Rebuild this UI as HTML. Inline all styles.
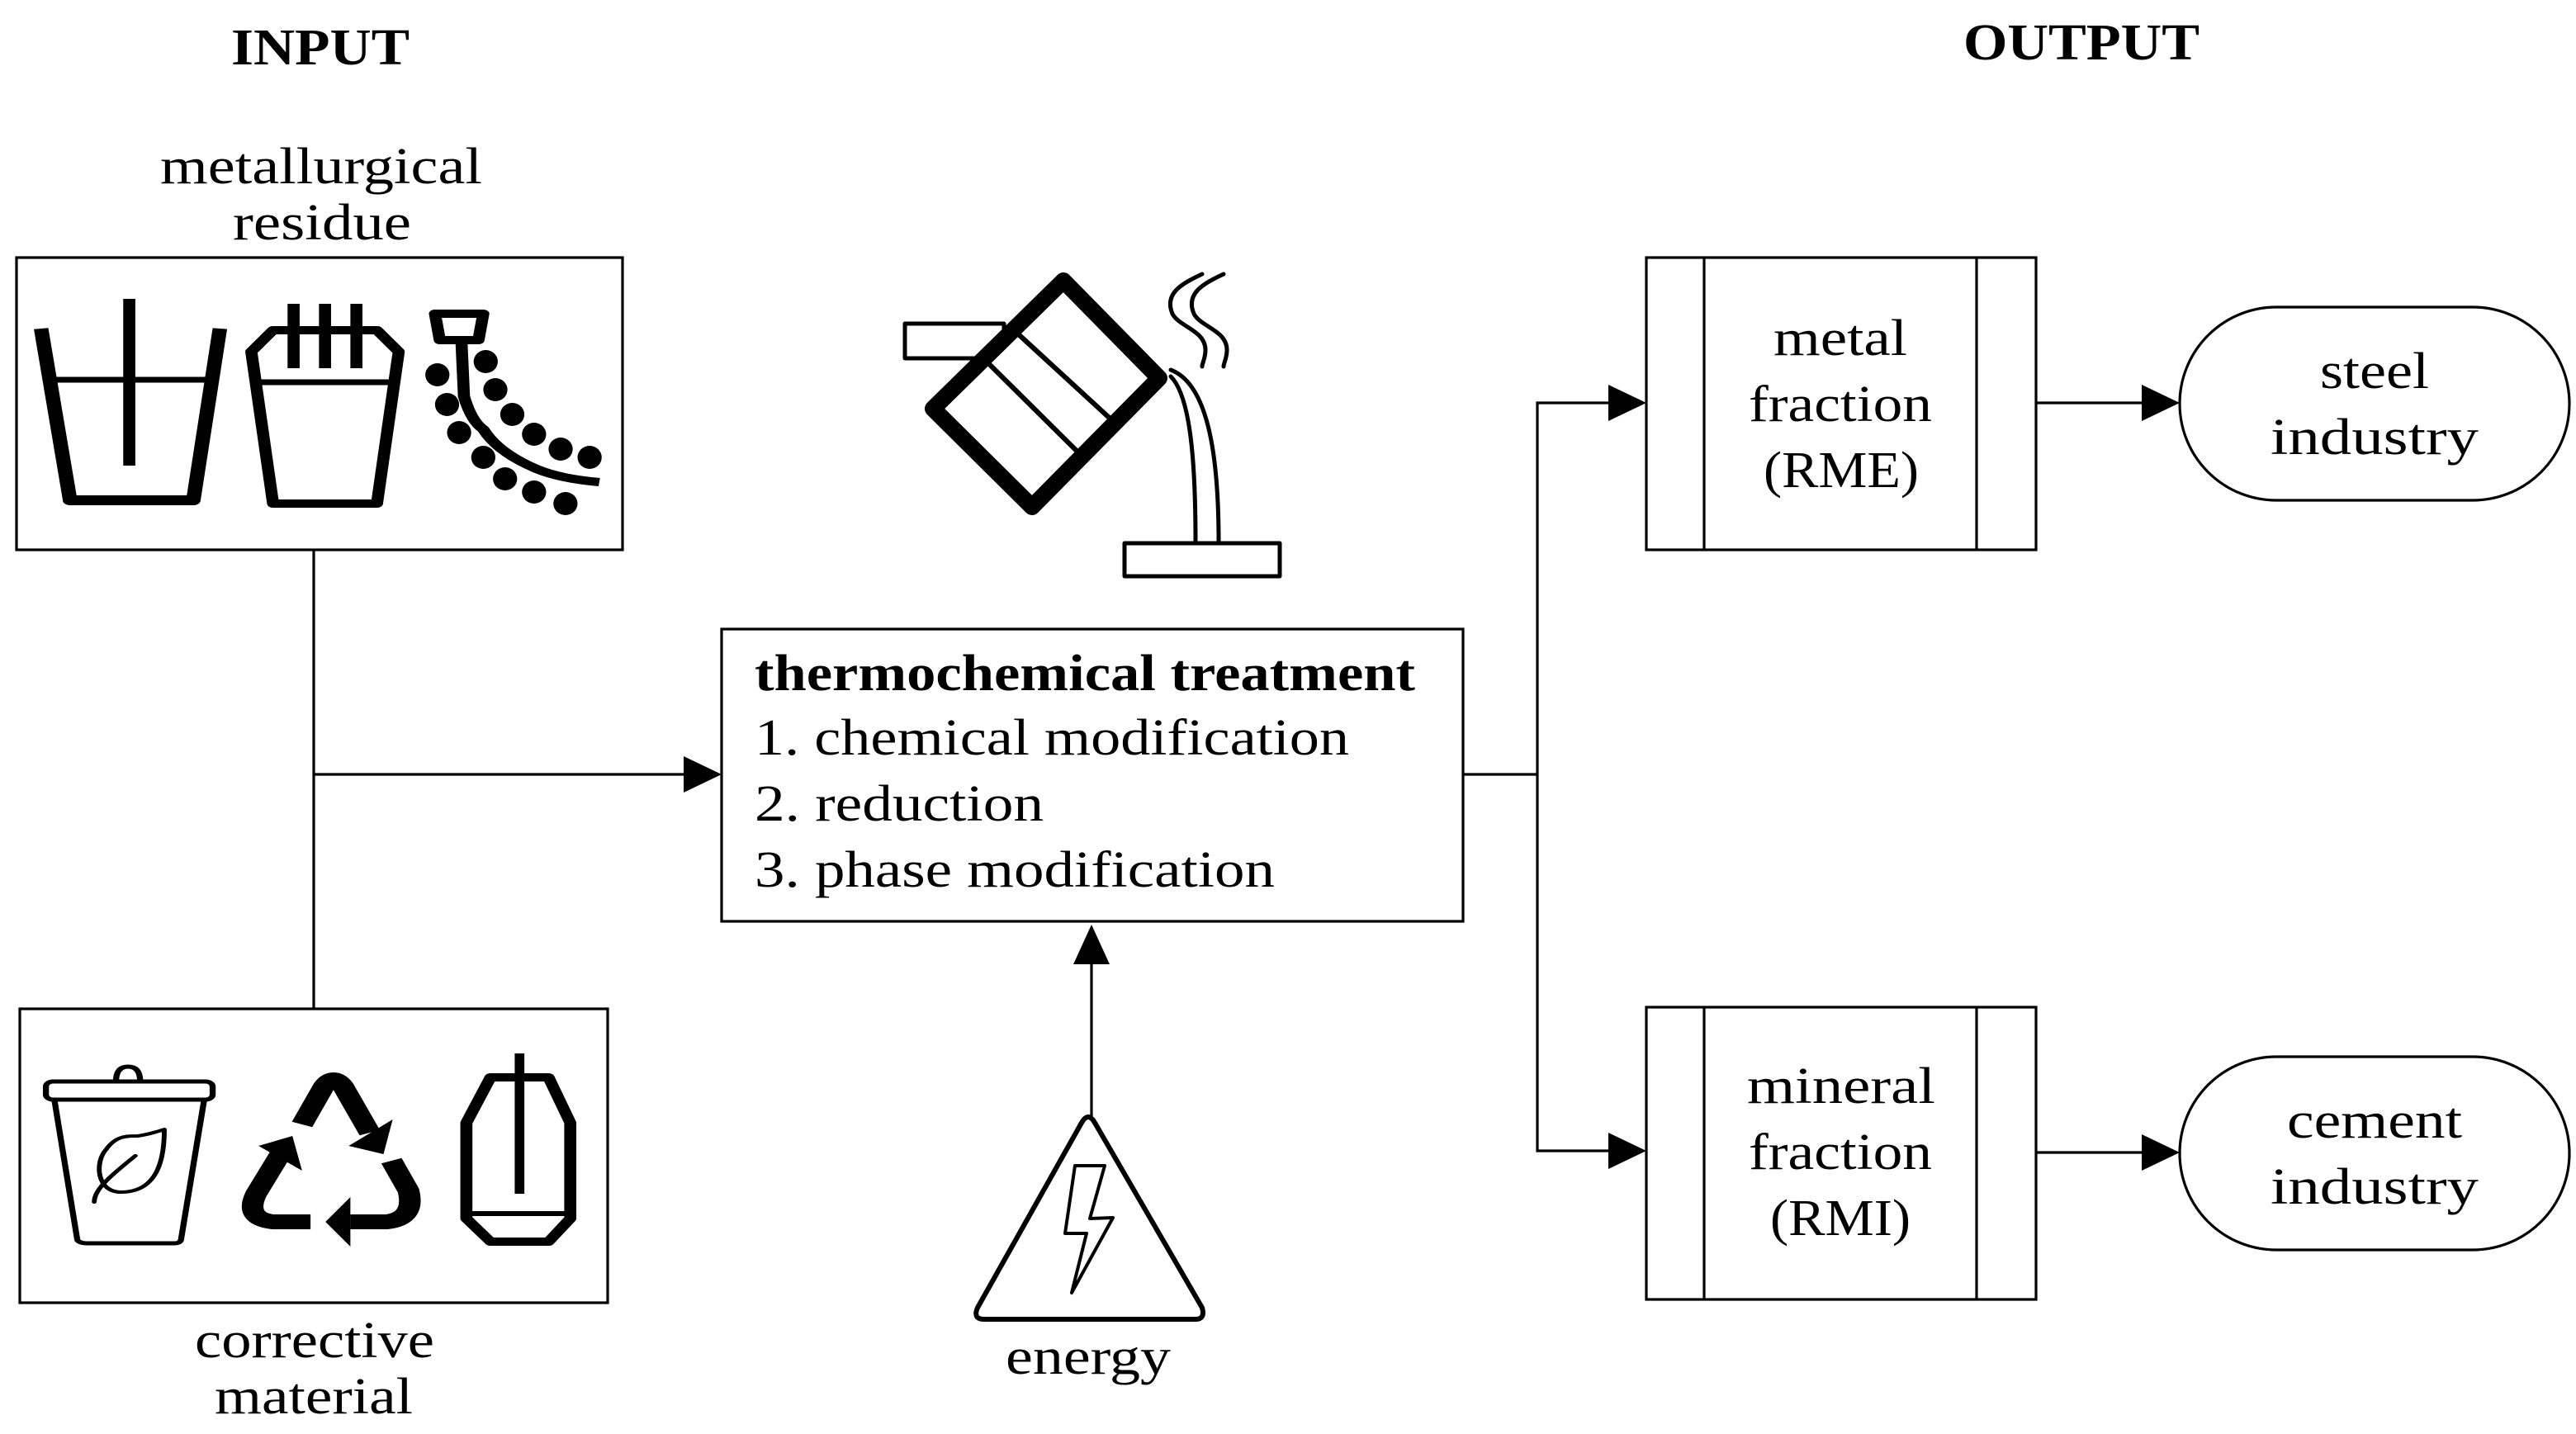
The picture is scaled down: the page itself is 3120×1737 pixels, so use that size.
<!DOCTYPE html>
<html><head><meta charset="utf-8"><style>html,body{margin:0;padding:0;background:#fff}svg{display:block}</style></head>
<body>
<svg width="3120" height="1737" viewBox="0 0 1560 868.5" xmlns="http://www.w3.org/2000/svg" font-family="'Liberation Serif', serif" font-size="31" fill="#000">
<rect width="1560" height="868.5" fill="#fff"/>
<g>
<text x="140" y="39" font-weight="bold" textLength="108" lengthAdjust="spacingAndGlyphs">INPUT</text>
<text x="1189" y="36" font-weight="bold" textLength="143" lengthAdjust="spacingAndGlyphs">OUTPUT</text>
<text x="97" y="111" textLength="195" lengthAdjust="spacingAndGlyphs">metallurgical</text>
<text x="141" y="145" textLength="108" lengthAdjust="spacingAndGlyphs">residue</text>
<text x="118" y="822" textLength="145" lengthAdjust="spacingAndGlyphs">corrective</text>
<text x="130" y="856" textLength="120" lengthAdjust="spacingAndGlyphs">material</text>
<text x="609" y="832" textLength="100" lengthAdjust="spacingAndGlyphs">energy</text>
<text x="457" y="418" font-weight="bold" textLength="400" lengthAdjust="spacingAndGlyphs">thermochemical treatment</text>
<text x="457" y="457" textLength="360" lengthAdjust="spacingAndGlyphs">1. chemical modification</text>
<text x="457" y="497" textLength="175" lengthAdjust="spacingAndGlyphs">2. reduction</text>
<text x="457" y="537" textLength="315" lengthAdjust="spacingAndGlyphs">3. phase modification</text>
<text x="1074" y="215" textLength="81" lengthAdjust="spacingAndGlyphs">metal</text>
<text x="1059" y="255" textLength="111" lengthAdjust="spacingAndGlyphs">fraction</text>
<text x="1068" y="295" textLength="94" lengthAdjust="spacingAndGlyphs">(RME)</text>
<text x="1058" y="668" textLength="114" lengthAdjust="spacingAndGlyphs">mineral</text>
<text x="1059" y="708" textLength="111" lengthAdjust="spacingAndGlyphs">fraction</text>
<text x="1072" y="748" textLength="85" lengthAdjust="spacingAndGlyphs">(RMI)</text>
<text x="1405" y="235" textLength="66" lengthAdjust="spacingAndGlyphs">steel</text>
<text x="1375" y="275" textLength="126" lengthAdjust="spacingAndGlyphs">industry</text>
<text x="1385" y="689" textLength="106" lengthAdjust="spacingAndGlyphs">cement</text>
<text x="1375" y="729" textLength="126" lengthAdjust="spacingAndGlyphs">industry</text>
</g>
<g fill="none" stroke="#000" stroke-width="1.6">
<rect x="10" y="156" width="367" height="177"/>
<rect x="12" y="611" width="356" height="178"/>
<rect x="437" y="381" width="449" height="177"/>
<rect x="997" y="156" width="236" height="177"/>
<line x1="1032" y1="156" x2="1032" y2="333"/><line x1="1197" y1="156" x2="1197" y2="333"/>
<rect x="997" y="610" width="236" height="177"/>
<line x1="1032" y1="610" x2="1032" y2="787"/><line x1="1197" y1="610" x2="1197" y2="787"/>
<rect x="1320" y="186" width="236" height="117" rx="58.5"/>
<rect x="1320" y="640" width="236" height="117" rx="58.5"/>
<line x1="190" y1="333" x2="190" y2="611"/>
<line x1="190" y1="469" x2="416" y2="469"/>
<line x1="661" y1="676" x2="661" y2="582"/>
<polyline points="886,469 931,469"/>
<polyline points="976,244 931,244 931,697 976,697"/>
<line x1="1233" y1="244" x2="1298" y2="244"/>
<line x1="1233" y1="698" x2="1298" y2="698"/>
</g>
<g fill="#000">
<polygon points="414,458 437,469 414,480"/>
<polygon points="650,584 661,560 672,584"/>
<polygon points="974,233 997,244 974,255"/>
<polygon points="974,686 997,697 974,708"/>
<polygon points="1297,233 1320,244 1297,255"/>
<polygon points="1297,687 1320,698 1297,709"/>
</g>
<!-- box1 icons -->
<g transform="matrix(1.4634,0,0,1,0,0)">
<g fill="none" stroke="#000" stroke-linejoin="round">
<polyline points="17,199 29,303 80,303 91,199" stroke-width="6"/>
<line x1="23" y1="230" x2="86" y2="230" stroke-width="3.5"/>
<line x1="53.5" y1="181" x2="53.5" y2="282" stroke-width="5"/>
<polygon points="104,213 113,200 156,200 165,213 156,305 113,305" stroke-width="5"/>
<line x1="107" y1="231.5" x2="162" y2="231.5" stroke-width="3.5"/>
<line x1="121.5" y1="184" x2="121.5" y2="223" stroke-width="5"/>
<line x1="134.5" y1="184" x2="134.5" y2="223" stroke-width="5"/>
<line x1="147.5" y1="184" x2="147.5" y2="223" stroke-width="5"/>
<polygon points="180,190 200,190 198,206 182,206" stroke-width="5"/>
<path d="M191,208 L192,240 Q195,255 200,260 Q206,274 222,284 Q232,290 248,292" stroke-width="5"/>
</g>
<g fill="#000">
<ellipse cx="181" cy="227" rx="5" ry="7"/><ellipse cx="201" cy="219" rx="5" ry="7"/>
<ellipse cx="185" cy="245" rx="5" ry="7"/><ellipse cx="205" cy="236" rx="5" ry="7"/>
<ellipse cx="190" cy="262" rx="5" ry="7"/><ellipse cx="212" cy="251" rx="5" ry="7"/>
<ellipse cx="200" cy="277" rx="5" ry="7"/><ellipse cx="221" cy="263" rx="5" ry="7"/>
<ellipse cx="209" cy="290" rx="5" ry="7"/><ellipse cx="232" cy="272" rx="5" ry="7"/>
<ellipse cx="221" cy="298" rx="5" ry="7"/><ellipse cx="244" cy="277" rx="5" ry="7"/>
<ellipse cx="234" cy="305" rx="5" ry="7"/>
</g>
</g>
<!-- box2 icons -->
<g transform="matrix(1.4634,0,0,1,0,0)">
<g fill="none" stroke="#000" stroke-linejoin="round" stroke-linecap="round">
<rect x="19" y="655" width="69" height="11" rx="3" stroke-width="2.5"/>
<path d="M48,655 Q48,646 53,646 Q58,646 58,655" stroke-width="2.5"/>
<path d="M22.5,666 L32,751 Q33,753 36,753 L72,753 Q75,753 75,750 L84.5,666" stroke-width="2.5"/>
<path d="M50,722 C40,722 39,704 44,696 C48,688 52,688 57,688 C62,687 68,684 68,684 C68,700 66,722 50,722 Z" stroke-width="2"/>
<path d="M39,728 C39,720 46,712 56,700" stroke-width="2"/>
<path d="M125,681 L134,658 Q138,650 142,658 L153,686" stroke-width="9" stroke-linecap="butt"/>
<path d="M162,703 L169,721 Q172,738 160,740 L145,740" stroke-width="9" stroke-linecap="butt"/>
<path d="M128.5,740 L113,740 Q101,738 106,723 L116,699" stroke-width="9" stroke-linecap="butt"/>
<polygon points="203,652.5 227,652.5 236,680 236,738 227,752 203,752 193,738 193,680" stroke-width="5"/>
<line x1="193" y1="735" x2="236" y2="735" stroke-width="3"/>
<line x1="215" y1="638" x2="215" y2="723" stroke-width="4" stroke-linecap="butt"/>
</g>
<g fill="#000">
<polygon points="162.5,678 158.7,699 144.3,694"/>
<polygon points="145,725 134.7,740 145,755"/>
<polygon points="107,694 121,688 125,709"/>
</g>
</g>
<!-- pouring icon -->
<g fill="none" stroke="#000" stroke-linejoin="round" stroke-linecap="round">
<rect x="548" y="196" width="60" height="21" stroke-width="2.5" fill="#fff"/>
<polygon points="644,170 702,229 625,307 565,247.5" stroke-width="10" fill="#fff"/>
<line x1="613" y1="199" x2="675" y2="256" stroke-width="3"/>
<line x1="596" y1="217.5" x2="657" y2="278" stroke-width="3"/>
<path d="M709,228 C721,240 724,280 724,328" stroke-width="2.5"/>
<path d="M709,224 C730,232 738,270 738,328" stroke-width="2.5"/>
<rect x="681" y="329" width="94" height="20" stroke-width="2.5" fill="#fff"/>
<path d="M728,166 C715,172 705,178 710,190 C714,198 730,200 730,212 C730,217 728,220 728,222" stroke-width="2.5"/>
<path d="M741,166 C728,172 718,178 723,190 C727,198 743,200 743,212 C743,217 741,220 741,222" stroke-width="2.5"/>
</g>
<!-- energy triangle -->
<g fill="none" stroke="#000" stroke-linejoin="round">
<path d="M655,680 Q659,673 663,680 L728,792 Q730,799 724,799 L596,799 Q589,799 592,792 Z" stroke-width="3" fill="#fff"/>
<polygon points="651,706 669,706 660,738 674,737.5 649,783 658,747 645,747" stroke-width="2"/>
</g>
</svg>
</body></html>
